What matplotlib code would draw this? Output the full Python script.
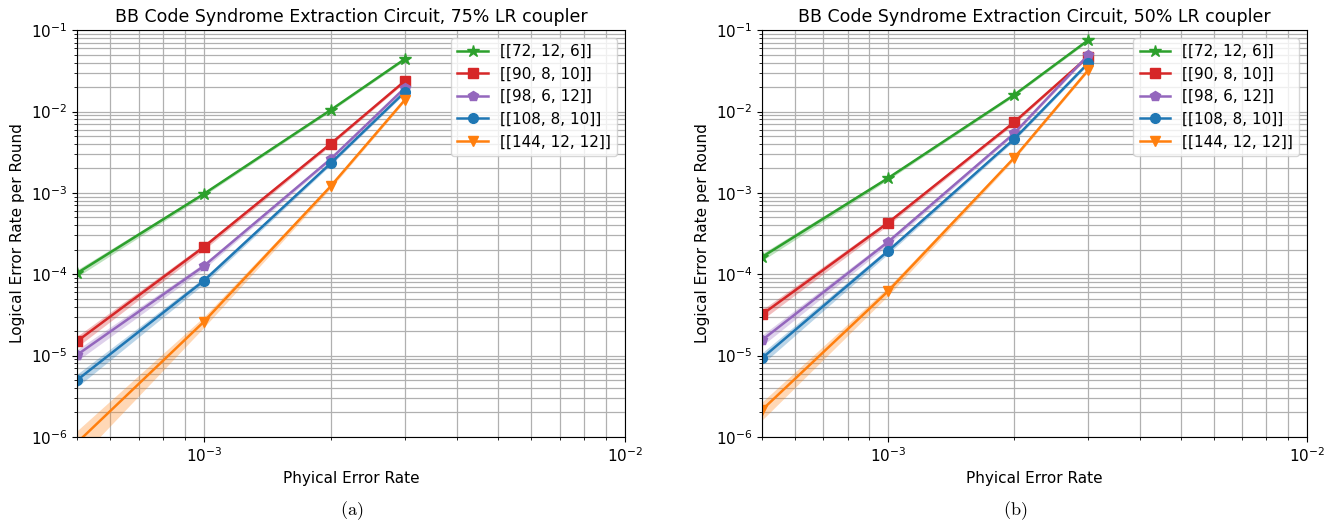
import numpy as np
import matplotlib.pyplot as plt

# physical error rates
p = [5e-4, 1e-3, 2e-3, 3e-3]

codes = ["[[72, 12, 6]]", "[[90, 8, 10]]", "[[98, 6, 12]]", "[[108, 8, 10]]", "[[144, 12, 12]]"]
colors = ["tab:green", "tab:red", "tab:purple", "tab:blue", "tab:orange"]
markers = ["*", "s", "p", "o", "v"]

# (a) 75% LR coupler
ler_a_72 = [1.03e-4, 9.7e-4, 1.04e-2, 4.4e-2]
ler_a_90 = [1.5e-5, 2.16e-4, 4.0e-3, 2.36e-2]
ler_a_98 = [1.02e-5, 1.26e-4, 2.6e-3, 1.94e-2]
ler_a_108 = [5.0e-6, 8.3e-5, 2.3e-3, 1.73e-2]
ler_a_144 = [8.5e-7, 2.6e-5, 1.2e-3, 1.38e-2]

# (b) 50% LR coupler
ler_b_72 = [1.63e-4, 1.52e-3, 1.6e-2, 7.5e-2]
ler_b_90 = [3.2e-5, 4.3e-4, 7.4e-3, 4.7e-2]
ler_b_98 = [1.55e-5, 2.5e-4, 5.4e-3, 4.9e-2]
ler_b_108 = [9.3e-6, 1.93e-4, 4.6e-3, 3.9e-2]
ler_b_144 = [2.15e-6, 6.2e-5, 2.7e-3, 3.2e-2]

# relative half-width of the shaded band
err_a = [[0.1, 0.05, 0.04, 0.04],
         [0.15, 0.08, 0.05, 0.04],
         [0.16, 0.08, 0.05, 0.04],
         [0.18, 0.09, 0.05, 0.04],
         [0.4, 0.15, 0.06, 0.04]]
err_b = [[0.1, 0.05, 0.04, 0.04],
         [0.14, 0.07, 0.05, 0.04],
         [0.15, 0.08, 0.05, 0.04],
         [0.16, 0.08, 0.05, 0.04],
         [0.25, 0.12, 0.05, 0.04]]

data_a = [ler_a_72, ler_a_90, ler_a_98, ler_a_108, ler_a_144]
data_b = [ler_b_72, ler_b_90, ler_b_98, ler_b_108, ler_b_144]

fig = plt.figure(figsize=(13.35, 5.29), dpi=100)
ax1 = fig.add_axes([0.0577, 0.174, 0.4103, 0.769])
ax2 = fig.add_axes([0.5708, 0.174, 0.4082, 0.769])

panels = [(ax1, data_a, err_a, "BB Code Syndrome Extraction Circuit, 75% LR coupler"),
          (ax2, data_b, err_b, "BB Code Syndrome Extraction Circuit, 50% LR coupler")]

for ax, data, err, title in panels:
    for y, e, c, m, lab in zip(data, err, colors, markers, codes):
        y = np.array(y)
        e = np.array(e)
        ax.fill_between(p, y * (1 - e), y * (1 + e), color=c, alpha=0.3, lw=0)
        ms = 9 if m == "*" else 7
        ax.plot(p, y, color=c, marker=m, ms=ms, lw=1.8, label=lab)
    ax.set_xscale("log")
    ax.set_yscale("log")
    ax.set_xlim(5e-4, 1e-2)
    ax.set_ylim(1e-6, 1e-1)
    ax.grid(True, which="both", color="#b0b0b0", lw=0.9)
    ax.set_axisbelow(True)
    ax.set_title(title, fontsize=12.5)
    ax.set_xlabel("Phyical Error Rate", fontsize=11)
    ax.set_ylabel("Logical Error Rate per Round", fontsize=11)
    ax.tick_params(labelsize=11)
    ax.legend(loc="upper right", fontsize=11)

fig.text(0.2637, 0.027, r"$\mathrm{(a)}$", ha="center", fontsize=13, math_fontfamily="cm")
fig.text(0.7603, 0.027, r"$\mathrm{(b)}$", ha="center", fontsize=13, math_fontfamily="cm")

fig.savefig("out.png", dpi=100)
